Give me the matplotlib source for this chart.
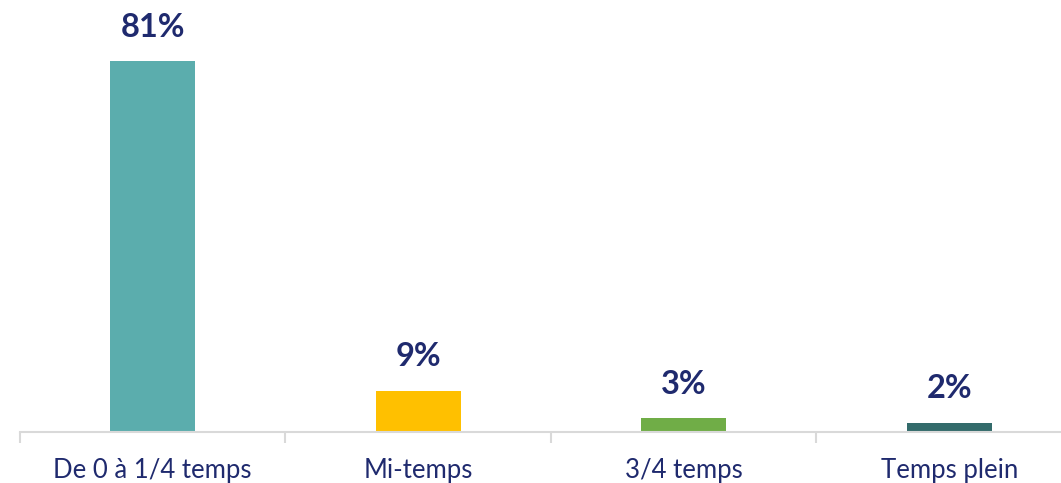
import matplotlib
matplotlib.use("Agg")
import matplotlib.pyplot as plt
import numpy as np

categories = ["De 0 à 1/4 temps", "Mi-temps", "3/4 temps", "Temps plein"]
values = [81, 9, 3, 2]
labels = ["81%", "9%", "3%", "2%"]
colors = ["#5BADAD", "#FFC000", "#70AD47", "#336B6B"]
text_color = "#1F2A6E"

W, H = 1061, 483
fig = plt.figure(figsize=(W/100, H/100), dpi=100)
ax = fig.add_axes([20/W, 51/H, 1062/W, 412/H])

x = np.arange(len(categories))
ax.bar(x, values, width=0.32, color=colors, zorder=2)
ax.set_xlim(-0.5, len(categories) - 0.5)
ax.set_ylim(0, 90)

for xi, v, lab in zip(x, values, labels):
    ax.annotate(lab, (xi, v), xytext=(0, 14), textcoords="offset points",
                ha="center", va="bottom", fontsize=23.5, fontweight="bold",
                color=text_color, family="Lato")

for s in ["top", "right", "left"]:
    ax.spines[s].set_visible(False)
ax.spines["bottom"].set_color("#D9D9D9")
ax.spines["bottom"].set_linewidth(1.5)
ax.set_yticks([])

ax.set_xticks(x)
ax.set_xticklabels(categories, fontsize=18.5, color=text_color, family="Lato")
ax.tick_params(axis="x", which="major", length=0, pad=19)
ax.set_xticks(np.arange(-0.5, len(categories), 1.0), minor=True)
ax.tick_params(axis="x", which="minor", length=8, width=1.5, color="#D9D9D9")

fig.savefig("out.png", dpi=100)
